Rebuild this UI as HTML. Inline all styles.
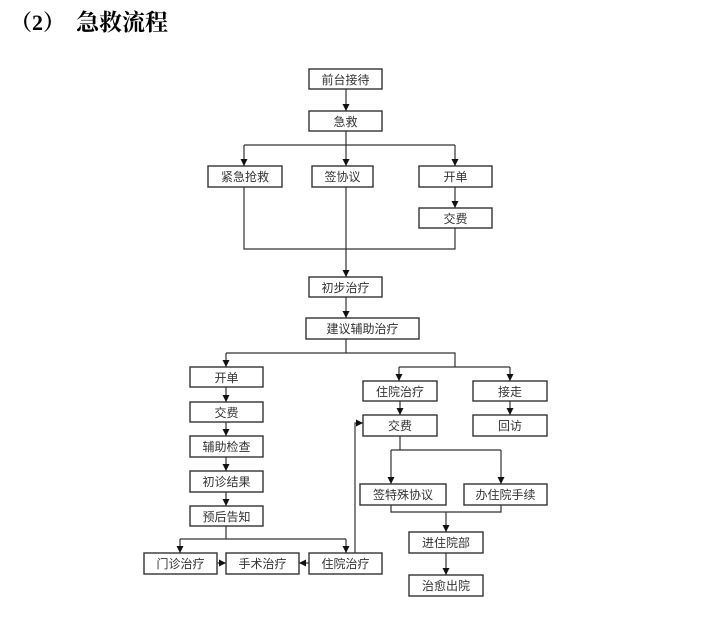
<!DOCTYPE html>
<html><head><meta charset="utf-8"><style>
html,body{margin:0;padding:0;background:#fff;}
svg{display:block;}
text{font-family:"Liberation Sans","Noto Sans CJK SC",sans-serif;font-size:12px;fill:#333;}
</style></head><body>
<svg width="708" height="617" viewBox="0 0 708 617" xmlns="http://www.w3.org/2000/svg">
<defs><marker id="a" markerWidth="8" markerHeight="8" refX="7" refY="4" orient="auto" markerUnits="userSpaceOnUse"><path d="M0,0.5 L7,4 L0,7.5 z" fill="#111"/></marker></defs>
<text x="10" y="30" style="font-family:'Liberation Serif','Noto Serif CJK SC',serif;font-size:22px;font-weight:bold;fill:#000">（2）</text>
<text x="76" y="30" style="font-family:'Liberation Serif','Noto Serif CJK SC',serif;font-size:23px;font-weight:bold;fill:#000">急救流程</text>
<g fill="none" stroke="#333" stroke-width="1.4">
<rect x="309" y="69" width="73" height="20"/>
<rect x="309" y="111" width="73" height="20"/>
<rect x="208" y="166" width="74" height="21"/>
<rect x="312" y="166" width="61" height="21"/>
<rect x="419" y="166" width="73" height="21"/>
<rect x="419" y="208" width="73" height="20"/>
<rect x="309" y="277" width="73" height="20"/>
<rect x="306" y="318" width="113" height="21"/>
<rect x="190" y="367" width="73" height="20"/>
<rect x="190" y="402" width="73" height="20"/>
<rect x="190" y="436" width="73" height="21"/>
<rect x="190" y="471" width="73" height="21"/>
<rect x="190" y="506" width="73" height="20"/>
<rect x="144" y="553" width="73" height="21"/>
<rect x="226" y="553" width="73" height="21"/>
<rect x="309" y="553" width="73" height="21"/>
<rect x="363" y="381" width="74" height="20"/>
<rect x="363" y="415" width="74" height="21"/>
<rect x="473" y="381" width="74" height="20"/>
<rect x="473" y="415" width="74" height="21"/>
<rect x="360" y="484" width="86" height="21"/>
<rect x="464" y="484" width="83" height="21"/>
<rect x="409" y="532" width="74" height="21"/>
<rect x="409" y="575" width="74" height="21"/>
</g>
<g fill="none" stroke="#333" stroke-width="1.2">
<path d="M346,89 V111" marker-end="url(#a)"/>
<path d="M346,131 V166" marker-end="url(#a)"/>
<path d="M244,145 H455"/>
<path d="M244,145 V166" marker-end="url(#a)"/>
<path d="M455,145 V166" marker-end="url(#a)"/>
<path d="M455,187 V208" marker-end="url(#a)"/>
<path d="M244,187 V249 H455 V228"/>
<path d="M346,187 V277" marker-end="url(#a)"/>
<path d="M346,297 V318" marker-end="url(#a)"/>
<path d="M346,339 V353"/>
<path d="M226,353 H455 V367"/>
<path d="M226,353 V367" marker-end="url(#a)"/>
<path d="M226,387 V402" marker-end="url(#a)"/>
<path d="M226,422 V436" marker-end="url(#a)"/>
<path d="M226,457 V471" marker-end="url(#a)"/>
<path d="M226,492 V506" marker-end="url(#a)"/>
<path d="M226,526 V539"/>
<path d="M180,539 H346"/>
<path d="M180,539 V553" marker-end="url(#a)"/>
<path d="M346,539 V553" marker-end="url(#a)"/>
<path d="M217,563 H226" marker-end="url(#a)"/>
<path d="M309,563 H299" marker-end="url(#a)"/>
<path d="M355,553 V423 H363" marker-end="url(#a)"/>
<path d="M399,367 H510"/>
<path d="M399,367 V381" marker-end="url(#a)"/>
<path d="M510,367 V381" marker-end="url(#a)"/>
<path d="M400,401 V415" marker-end="url(#a)"/>
<path d="M510,401 V415" marker-end="url(#a)"/>
<path d="M400,436 V450"/>
<path d="M391,450 H501"/>
<path d="M391,450 V484" marker-end="url(#a)"/>
<path d="M501,450 V484" marker-end="url(#a)"/>
<path d="M391,505 V512 H501 V505"/>
<path d="M446,512 V532" marker-end="url(#a)"/>
<path d="M446,553 V575" marker-end="url(#a)"/>
</g>
<g text-anchor="middle">
<text x="345.5" y="84">前台接待</text>
<text x="345.5" y="126">急救</text>
<text x="245" y="181">紧急抢救</text>
<text x="342.5" y="181">签协议</text>
<text x="455.5" y="181">开单</text>
<text x="455.5" y="223">交费</text>
<text x="345.5" y="292">初步治疗</text>
<text x="362.5" y="333">建议辅助治疗</text>
<text x="226.5" y="382">开单</text>
<text x="226.5" y="417">交费</text>
<text x="226.5" y="451">辅助检查</text>
<text x="226.5" y="486">初诊结果</text>
<text x="226.5" y="521">预后告知</text>
<text x="180.5" y="568">门诊治疗</text>
<text x="262.5" y="568">手术治疗</text>
<text x="345.5" y="568">住院治疗</text>
<text x="400" y="396">住院治疗</text>
<text x="400" y="430">交费</text>
<text x="510" y="396">接走</text>
<text x="510" y="430">回访</text>
<text x="403" y="499">签特殊协议</text>
<text x="505.5" y="499">办住院手续</text>
<text x="446" y="547">进住院部</text>
<text x="446" y="590">治愈出院</text>
</g>
</svg>
</body></html>
